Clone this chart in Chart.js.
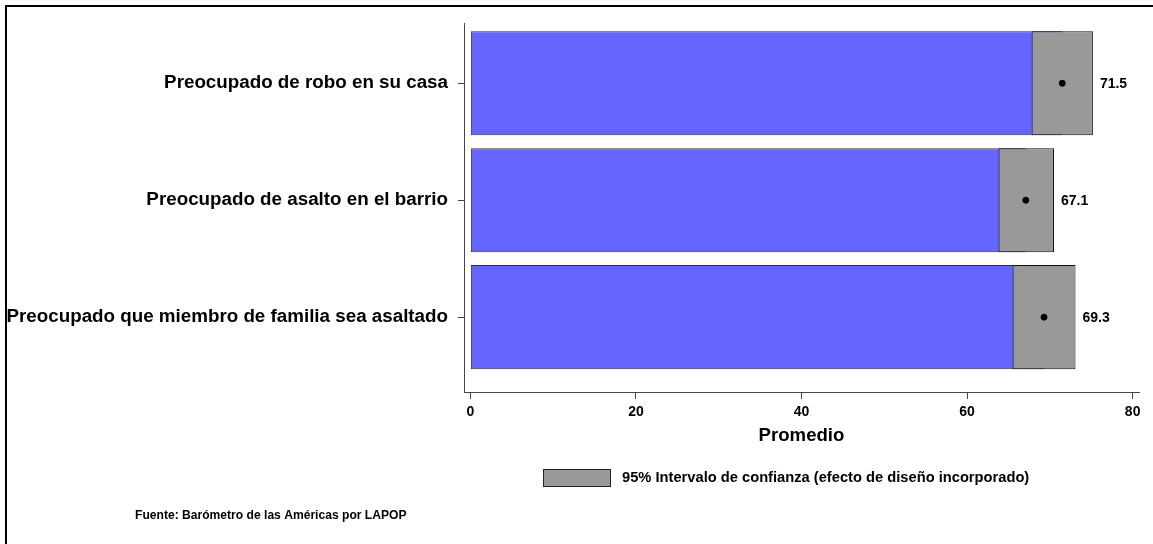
<!DOCTYPE html>
<html><head><meta charset="utf-8">
<script src="https://cdn.jsdelivr.net/npm/chart.js@4/dist/chart.umd.min.js"></script>
<style>html,body{margin:0;padding:0;background:#fff;overflow:hidden}</style>
</head><body>
<canvas id="c" width="1153" height="544"></canvas>
<script>
const categories = ["Preocupado de robo en su casa", "Preocupado de asalto en el barrio", "Preocupado que miembro de familia sea asaltado"];
const means = [71.5, 67.1, 69.3];
const ciLower = [67.8, 63.8, 65.5];
const ciUpper = [75.2, 70.5, 73.1];
const xTicks = [0, 20, 40, 60, 80];
const xTitle = "Promedio";
const legendLabel = "95% Intervalo de confianza (efecto de diseño incorporado)";
const sourceNote = "Fuente: Barómetro de las Américas por LAPOP";

const FONT = '"Liberation Sans", Arial, Helvetica, sans-serif';

const overlay = {
  id: 'overlay',
  afterDatasetsDraw(chart) {
    const ctx = chart.ctx, xs = chart.scales.x, ys = chart.scales.y;
    ctx.save();
    ctx.fillStyle = '#000';
    ctx.font = 'bold 14px ' + FONT;
    ctx.textAlign = 'left';
    ctx.textBaseline = 'middle';
    means.forEach((m, i) => {
      ctx.fillText(m.toFixed(1), xs.getPixelForValue(ciUpper[i]) + 7, ys.getPixelForValue(i) + 1);
    });
    ctx.restore();
  },
  afterDraw(chart) {
    const ctx = chart.ctx;
    ctx.save();
    ctx.fillStyle = '#000';
    ctx.fillRect(5, 5, 1148, 2);
    ctx.fillRect(5, 5, 2, 539);
    ctx.fillStyle = '#999999';
    ctx.fillRect(543, 469, 68, 18);
    ctx.strokeStyle = '#222';
    ctx.lineWidth = 1;
    ctx.strokeRect(543.5, 469.5, 67, 17);
    ctx.fillStyle = '#000';
    ctx.font = 'bold 14.7px ' + FONT;
    ctx.textAlign = 'left';
    ctx.textBaseline = 'middle';
    ctx.fillText(legendLabel, 622, 478);
    ctx.font = 'bold 12.1px ' + FONT;
    ctx.fillText(sourceNote, 135, 516);
    ctx.restore();
  }
};

new Chart(document.getElementById('c'), {
  type: 'bar',
  data: {
    datasets: [
      {
        label: 'Promedio',
        data: means.map((m, i) => ({ x: [0, m], y: i })),
        backgroundColor: '#6666ff',
        borderColor: '#333333',
        borderWidth: 1,
        borderSkipped: false,
        order: 3
      },
      {
        label: legendLabel,
        data: ciLower.map((lo, i) => ({ x: [lo, ciUpper[i]], y: i })),
        backgroundColor: '#999999',
        borderColor: '#111111',
        borderWidth: 1,
        borderSkipped: false,
        order: 2
      },
      {
        type: 'scatter',
        label: 'Media',
        data: means.map((m, i) => ({ x: m, y: i })),
        backgroundColor: '#000',
        borderColor: '#000',
        pointRadius: 3,
        pointHoverRadius: 3,
        order: 1
      }
    ]
  },
  options: {
    indexAxis: 'y',
    responsive: false,
    devicePixelRatio: 1,
    animation: false,
    layout: { padding: { top: 23, left: 0, right: 14, bottom: 92 } },
    datasets: { bar: { grouped: false, categoryPercentage: 0.89, barPercentage: 1 } },
    plugins: { legend: { display: false }, tooltip: { enabled: false } },
    scales: {
      x: {
        type: 'linear',
        min: -0.77,
        max: 80.77,
        offset: false,
        afterBuildTicks: (s) => { s.ticks = xTicks.map(v => ({ value: v })); },
        afterFit: (s) => { s.height = 60; },
        grid: { offset: false, drawOnChartArea: false, drawTicks: true, tickLength: 7, tickColor: '#444' },
        border: { display: true, color: '#444', width: 1 },
        ticks: { color: '#000', padding: 5, font: { family: FONT, size: 14, weight: 'bold' } },
        title: { display: true, text: xTitle, color: '#000', padding: { top: 0, bottom: 5 }, font: { family: FONT, size: 18.6, weight: 'bold' } }
      },
      y: {
        type: 'linear',
        reverse: true,
        offset: false,
        min: -0.515,
        max: 2.64,
        afterBuildTicks: (s) => { s.ticks = categories.map((c, i) => ({ value: i })); },
        afterFit: (s) => { s.width = 464; },
        grid: { offset: false, drawOnChartArea: false, drawTicks: true, tickLength: 6, tickColor: '#444' },
        border: { display: true, color: '#444', width: 1 },
        ticks: { color: '#000', padding: 10, autoSkip: false, callback: (v) => categories[v], font: { family: FONT, size: 18.8, weight: 'bold' } }
      }
    }
  },
  plugins: [overlay]
});
</script>
</body></html>
